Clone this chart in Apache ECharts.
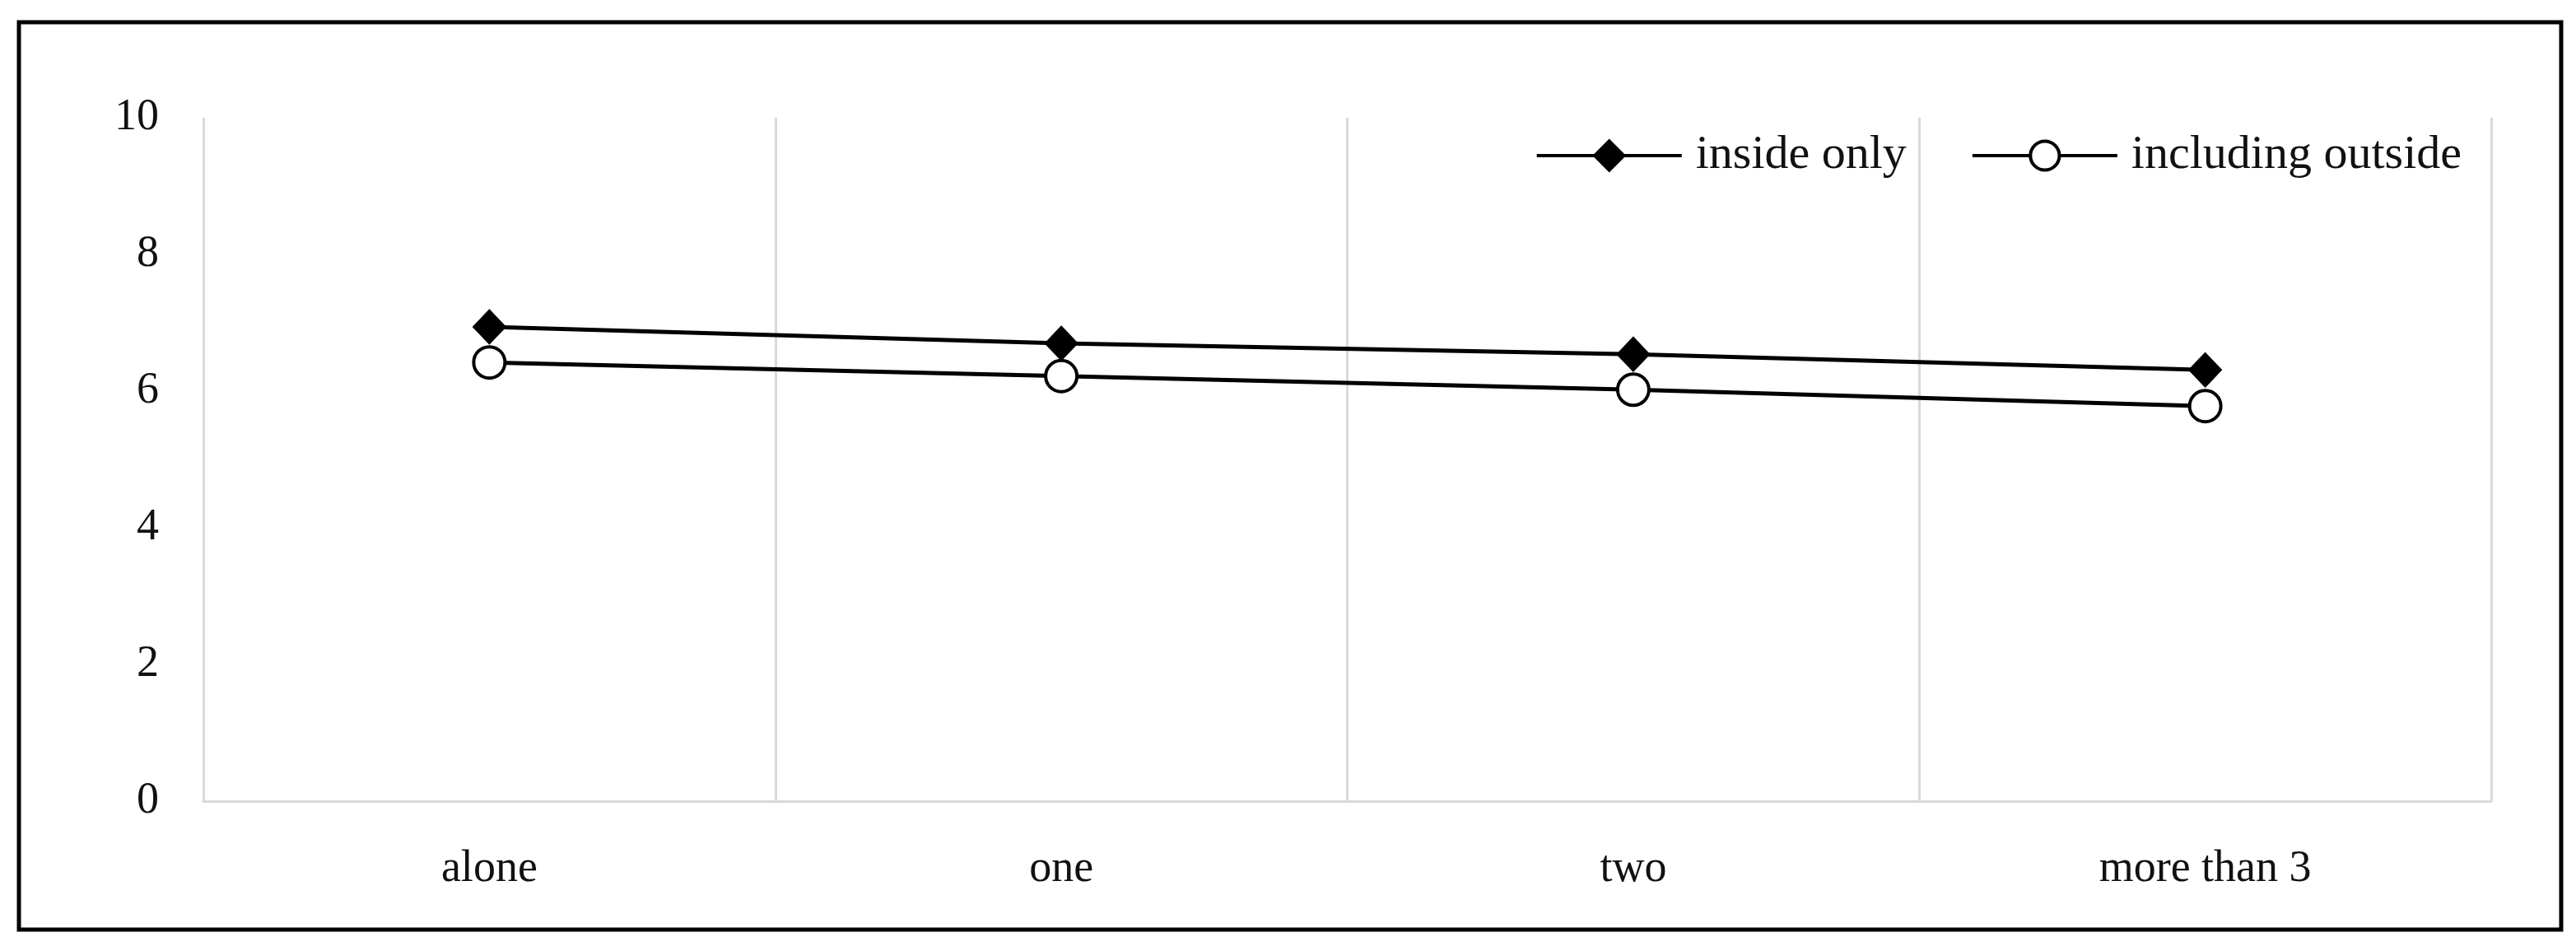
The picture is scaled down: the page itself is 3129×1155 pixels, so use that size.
<!DOCTYPE html>
<html>
<head>
<meta charset="utf-8">
<title>inside only vs including outside</title>
<script src="https://cdn.jsdelivr.net/npm/echarts@6/dist/echarts.min.js"></script>
<style>
    html, body { margin: 0; padding: 0; background: #fff; }
    #main { width: 3129px; height: 1155px; }
</style>
</head>
<body>
<div id="main"></div>
<script>
    const categories = ['alone', 'one', 'two', 'more than 3'];
    const insideOnly = [6.94, 6.70, 6.54, 6.31];
    const includingOutside = [6.42, 6.22, 6.02, 5.78];
    const yTicks = [0, 2, 4, 6, 8, 10];

    const fontFamily = '"Liberation Serif", "DejaVu Serif", serif';
    const textColor = '#111';

    const chart = echarts.init(document.getElementById('main'));

    const option = {
        backgroundColor: '#fff',
        animation: false,
        graphic: [{
            type: 'rect',
            shape: { x: 23, y: 27, width: 3088, height: 1102 },
            style: { fill: 'none', stroke: '#000', lineWidth: 5 },
            silent: true
        }],
        legend: {
            right: 134,
            top: 155,
            itemWidth: 176,
            itemHeight: 44,
            itemGap: 78,
            lineStyle: { width: 4 },
            itemStyle: { borderWidth: 4 },
            textStyle: {
                fontFamily: fontFamily,
                fontSize: 58,
                color: textColor,
                padding: [0, 0, 0, 12]
            },
            data: ['inside only', 'including outside']
        },
        grid: {
            left: 247,
            right: 103,
            top: 143,
            bottom: 182
        },
        xAxis: {
            type: 'category',
            data: categories,
            boundaryGap: true,
            axisLine: { lineStyle: { color: '#d9d9d9', width: 3 } },
            axisTick: { show: false },
            axisLabel: {
                margin: 56,
                fontFamily: fontFamily,
                fontSize: 54,
                color: textColor
            },
            splitLine: {
                show: true,
                lineStyle: { color: '#d9d9d9', width: 3 }
            }
        },
        yAxis: {
            type: 'value',
            min: yTicks[0],
            max: yTicks[yTicks.length - 1],
            interval: 2,
            axisLine: { show: false },
            axisTick: { show: false },
            splitLine: { show: false },
            axisLabel: {
                margin: 54,
                fontFamily: fontFamily,
                fontSize: 54,
                color: textColor
            }
        },
        series: [
            {
                name: 'inside only',
                type: 'line',
                data: insideOnly,
                symbol: 'diamond',
                symbolSize: [40, 42],
                itemStyle: { color: '#000', borderColor: '#000' },
                lineStyle: { color: '#000', width: 5 },
                z: 3
            },
            {
                name: 'including outside',
                type: 'line',
                data: includingOutside,
                symbol: 'circle',
                symbolSize: 38,
                itemStyle: { color: '#fff', borderColor: '#000', borderWidth: 4 },
                lineStyle: { color: '#000', width: 5 },
                z: 2
            }
        ]
    };

    chart.setOption(option);
</script>
</body>
</html>
